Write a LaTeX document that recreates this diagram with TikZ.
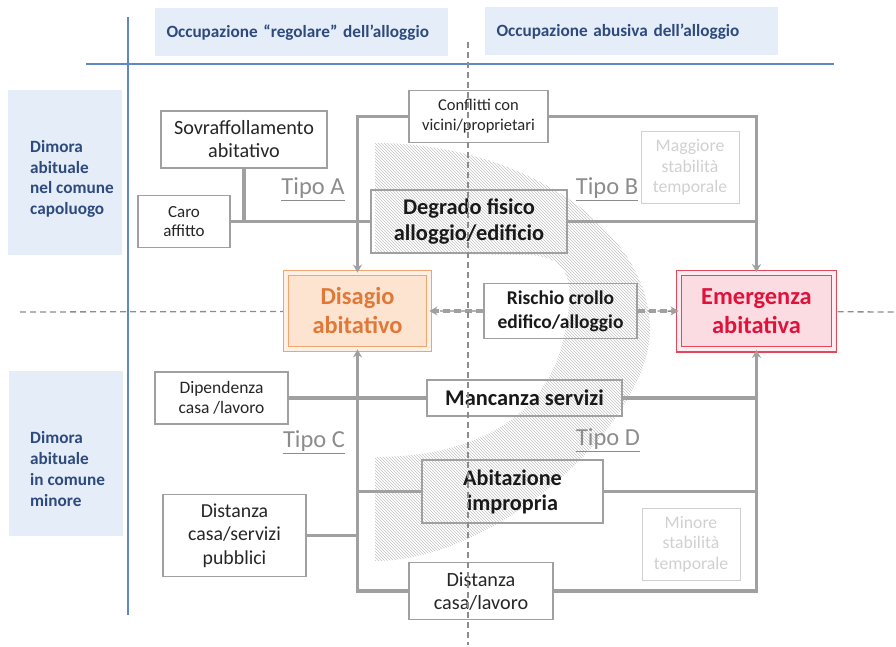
\documentclass[tikz,border=0pt]{standalone}
\usepackage{fontspec}
\setmainfont{Carlito}
\usepackage{tikz}
\usetikzlibrary{arrows.meta,patterns}

\definecolor{linkgray}{RGB}{160,160,160}
\definecolor{boxgray}{RGB}{160,160,160}
\definecolor{hdrblue}{RGB}{46,74,125}
\definecolor{hdrfill}{RGB}{229,237,248}
\definecolor{ruleblue}{RGB}{96,136,198}
\definecolor{disorange}{RGB}{224,120,56}
\definecolor{disline}{RGB}{240,164,112}
\definecolor{disfill}{RGB}{252,228,208}
\definecolor{emred}{RGB}{224,18,58}
\definecolor{emline}{RGB}{228,70,90}
\definecolor{emfill}{RGB}{251,220,227}
\definecolor{stabgray}{RGB}{208,208,208}
\definecolor{tipogray}{RGB}{140,140,140}

\pgfdeclarelayer{background}
\pgfsetlayers{background,main}

\begin{document}
\begin{tikzpicture}[
    x=1pt, y=-1pt,
    box/.style={draw=boxgray, line width=1.2pt, fill=white, align=center, inner sep=0pt, text=black!85},
    hbox/.style={box, fill=none, text=black!90, font=\bfseries\fontsize{22.4}{26}\selectfont},
    stab/.style={draw=stabgray, line width=1pt, align=center, inner sep=0pt, text=stabgray,
        minimum width=98pt, minimum height=72pt, font=\fontsize{17.7}{20.5}\selectfont},
    hdr/.style={fill=hdrfill, text=hdrblue, text width=270pt, inner xsep=11.5pt, align=left,
        minimum height=48pt, font=\bfseries\fontsize{17.2}{19}\selectfont},
    side/.style={fill=hdrfill, minimum width=114pt, minimum height=165pt},
    sidetext/.style={text=hdrblue, align=left, inner sep=0pt, font=\bfseries\fontsize{17.2}{20.7}\selectfont},
    tipo/.style={text=tipogray, font=\fontsize{24.5}{27}\selectfont},
    mainbox/.style={line width=1.2pt, double distance=4pt, align=center, inner sep=0pt,
        font=\bfseries\fontsize{24.4}{29}\selectfont},
    link/.style={draw=linkgray, line width=3.2pt},
    arr/.style={link, -{Stealth[length=8pt,width=9pt]}},
    dlink/.style={arr, dash pattern=on 7pt off 4pt},
    rule/.style={draw=ruleblue, line width=2pt},
    guide/.style={draw=black!45, line width=1.3pt, dash pattern=on 6pt off 4pt}
]
    \useasboundingbox (0,0) rectangle (896,647);

    % Column and row headers
    \node[hdr] (regolare) at (301.5,32.5) {Occupazione “regolare” dell’alloggio};
    \node[hdr] (abusiva) at (631.5,31.5) {Occupazione abusiva dell’alloggio};
    \node[side] (capbox) at (65,172.5) {};
    \node[sidetext, anchor=west] (captext) at (30,179) {Dimora\\abituale\\nel comune\\capoluogo};
    \node[side] (minbox) at (66,453.5) {};
    \node[sidetext, anchor=west] (mintext) at (30,469) {Dimora\\abituale\\in comune\\minore};

    % Blue rules
    \coordinate (hrule-l) at (86,64);
    \coordinate (hrule-r) at (834,64);
    \coordinate (vrule-t) at (128,17);
    \coordinate (vrule-b) at (128,615);
    \draw[rule] (hrule-l) -- (hrule-r);
    \draw[rule] (vrule-t) -- (vrule-b);

    % Hatched band behind the central boxes
    \begin{pgfonlayer}{background}
        \fill[pattern=north west lines, pattern color=black!24]
            (375,143) .. controls (525,143) and (650,230) .. (650,330)
            .. controls (650,420) and (500,561) .. (375,561) -- (375,457)
            .. controls (470,457) and (545,420) .. (563,340)
            .. controls (574,290) and (576,258) .. (530,255) -- (375,253) -- cycle;
    \end{pgfonlayer}

    % Causes
    \node[box, minimum width=166pt, minimum height=57pt, font=\fontsize{20.2}{23}\selectfont] (sovraff) at (244,139.5) {Sovraffollamento\\abitativo};
    \node[box, minimum width=92pt, minimum height=52pt, font=\fontsize{17}{18.5}\selectfont] (caro) at (184,221.5) {Caro\\affitto};
    \node[box, minimum width=139pt, minimum height=52pt, font=\fontsize{16.5}{20}\selectfont] (conflitti) at (478.5,116.5) {Conflitti con\\vicini/proprietari};
    \node[hbox, minimum width=196pt, minimum height=63pt] (degrado) at (469,221.5) {Degrado fisico\\alloggio/edificio};
    \node[hbox, minimum width=153pt, minimum height=55pt, font=\bfseries\fontsize{19.5}{24}\selectfont] (rischio) at (560.5,311) {Rischio crollo\\edifico/alloggio};
    \node[box, minimum width=133pt, minimum height=52pt, font=\fontsize{17.5}{20}\selectfont] (dipendenza) at (221.5,398) {Dipendenza\\casa /lavoro};
    \node[hbox, minimum width=195pt, minimum height=36pt] (mancanza) at (524.5,398) {Mancanza servizi};
    \node[hbox, minimum width=181pt, minimum height=63pt, font=\bfseries\fontsize{22.2}{25}\selectfont] (impropria) at (512.5,491.5) {Abitazione\\impropria};
    \node[box, minimum width=143pt, minimum height=82pt, font=\fontsize{19.8}{23.5}\selectfont] (servizi) at (234.5,535.5) {Distanza\\casa/servizi\\pubblici};
    \node[box, minimum width=144pt, minimum height=57pt, font=\fontsize{20.2}{23}\selectfont] (lavoro) at (481,591) {Distanza\\casa/lavoro};

    % Stability notes and types
    \node[stab] (maggiore) at (690,167.5) {Maggiore\\stabilità\\temporale};
    \node[stab] (minore) at (691,544) {Minore\\stabilità\\temporale};
    \node[tipo] (tipoA) at (313,189) {\underline{Tipo A}};
    \node[tipo] (tipoB) at (607,189) {\underline{Tipo B}};
    \node[tipo] (tipoC) at (314,442) {\underline{Tipo C}};
    \node[tipo] (tipoD) at (608,440) {\underline{Tipo D}};

    % Outcomes
    \node[mainbox, draw=disline, double=disfill!55!white, fill=disfill, text=disorange,
        minimum width=142.6pt, minimum height=75.6pt] (disagio) at (357.5,311) {Disagio\\abitativo};
    \node[mainbox, draw=emline, double=emfill!55!white, fill=emfill, text=emred,
        minimum width=154.6pt, minimum height=76.6pt] (emergenza) at (756.5,311) {Emergenza\\abitativa};

    % Horizontal guide (kept out of the Rischio box)
    \coordinate (hguide-l) at (20,312);
    \coordinate (hguide-r) at (896,312);
    \begin{pgfonlayer}{background}
        \draw[guide] (hguide-l) -- (rischio.west);
        \draw[guide] (rischio.east) -- (hguide-r);
    \end{pgfonlayer}

    % Upper connectors
    \draw[arr] (conflitti.west) -| (disagio.north);
    \draw[arr] (conflitti.east) -| (emergenza.north);
    \draw[link] (sovraff.south) |- (degrado.west);
    \draw[link] (caro.east) -- (degrado.west);
    \draw[link] (degrado.east) -- (degrado.east -| emergenza.north);

    % Lower connectors
    \draw[arr] (lavoro.west) -| (disagio.south);
    \draw[arr] (lavoro.east) -| (emergenza.south);
    \draw[link] (dipendenza.east) -- (mancanza.west);
    \draw[link] (mancanza.east) -- (mancanza.east -| emergenza.south);
    \draw[link] (impropria.west) -- (impropria.west -| disagio.south);
    \draw[link] (impropria.east) -- (impropria.east -| emergenza.south);
    \draw[link] (servizi.east) -- (servizi.east -| disagio.south);

    % Rischio crollo towards both outcomes
    \draw[dlink] (rischio.west) -- (disagio.east);
    \draw[dlink] (rischio.east) -- (emergenza.west);

    % Vertical guide on top
    \coordinate (vguide-t) at (468,42);
    \coordinate (vguide-b) at (468,645);
    \draw[guide] (vguide-t) -- (vguide-b);
\end{tikzpicture}
\end{document}
